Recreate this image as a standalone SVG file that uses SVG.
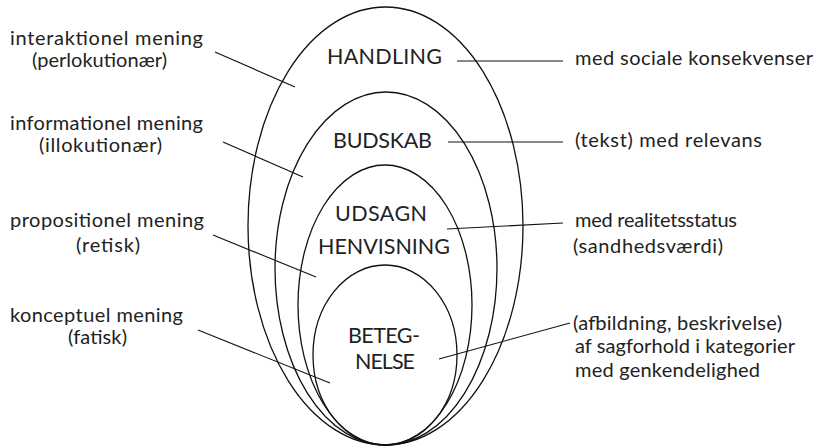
<svg xmlns="http://www.w3.org/2000/svg" width="819" height="448" viewBox="0 0 819 448">
  <style>
    .ring { fill: none; stroke: #111; stroke-width: 1.3; }
    .lead { stroke: #111; stroke-width: 1.1; fill: none; }
    text { font-family: Lato, "Open Sans", "DejaVu Sans", sans-serif; font-size: 20px; fill: #222; }
    .core { text-anchor: middle; font-size: 21.5px; }
  </style>
  <rect width="819" height="448" fill="#fff"/>

  <!-- nested meaning levels, all touching at the bottom -->
  <g id="handling">
    <ellipse class="ring" cx="385.5" cy="226" rx="137.5" ry="219"/>
    <text class="core" x="384.5" y="64" textLength="115">HANDLING</text>
  </g>
  <g id="budskab">
    <ellipse class="ring" cx="386" cy="268.5" rx="111" ry="176.5"/>
    <text class="core" x="382.5" y="148" textLength="99">BUDSKAB</text>
  </g>
  <g id="udsagn">
    <ellipse class="ring" cx="385" cy="305" rx="87" ry="140"/>
    <text class="core" x="381" y="221" textLength="92">UDSAGN</text>
    <text class="core" x="384" y="254" textLength="132">HENVISNING</text>
  </g>
  <g id="betegnelse">
    <ellipse class="ring" cx="385" cy="355" rx="72" ry="90"/>
    <text class="core" x="384" y="343" textLength="72">BETEG-</text>
    <text class="core" x="385" y="369" textLength="60">NELSE</text>
  </g>

  <!-- left-hand labels -->
  <g id="interaktionel">
    <text x="10" y="45" textLength="193">interaktionel mening</text>
    <text x="32" y="67" textLength="135">(perlokutionær)</text>
  </g>
  <g id="informationel">
    <text x="10" y="130" textLength="193">informationel mening</text>
    <text x="39" y="152" textLength="123">(illokutionær)</text>
  </g>
  <g id="propositionel">
    <text x="10" y="227" textLength="194">propositionel mening</text>
    <text x="76" y="252" textLength="64">(retisk)</text>
  </g>
  <g id="konceptuel">
    <text x="10" y="322" textLength="173">konceptuel mening</text>
    <text x="68" y="344" textLength="59">(fatisk)</text>
  </g>

  <!-- right-hand labels -->
  <g id="sociale">
    <text x="575" y="65" textLength="238">med sociale konsekvenser</text>
  </g>
  <g id="relevans">
    <text x="575" y="147" textLength="187">(tekst) med relevans</text>
  </g>
  <g id="realitet">
    <text x="575" y="227" textLength="162">med realitetsstatus</text>
    <text x="573" y="253" textLength="150">(sandhedsværdi)</text>
  </g>
  <g id="afbildning">
    <text x="573" y="330" textLength="209">(afbildning, beskrivelse)</text>
    <text x="575" y="353" textLength="220">af sagforhold i kategorier</text>
    <text x="575" y="377" textLength="185">med genkendelighed</text>
  </g>

  <!-- leader lines -->
  <g id="connectors">
    <line class="lead" x1="215" y1="52" x2="295" y2="87"/>
    <line class="lead" x1="223" y1="142" x2="303" y2="177"/>
    <line class="lead" x1="213" y1="235" x2="316" y2="277"/>
    <line class="lead" x1="198" y1="330" x2="330" y2="383"/>
    <line class="lead" x1="457" y1="61" x2="563" y2="61"/>
    <line class="lead" x1="448" y1="142" x2="563" y2="142"/>
    <line class="lead" x1="447" y1="229" x2="563" y2="223"/>
    <line class="lead" x1="439" y1="359" x2="570" y2="323"/>
  </g>
</svg>
